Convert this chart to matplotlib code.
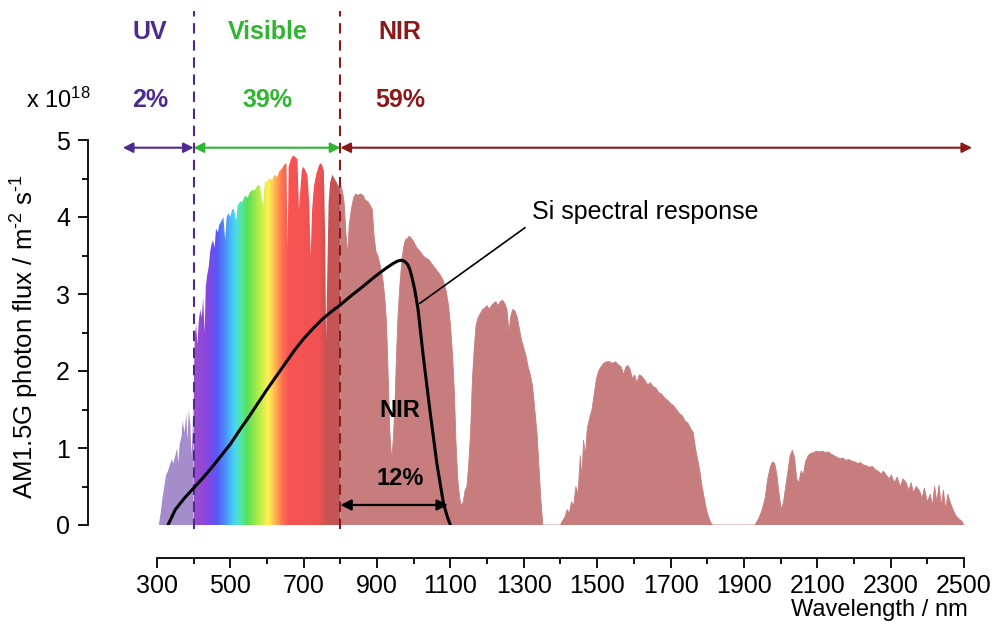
import numpy as np
import matplotlib
matplotlib.use("Agg")
import matplotlib.pyplot as plt
from matplotlib.colors import to_rgb

plt.rcParams['font.family'] = ['Liberation Sans', 'DejaVu Sans']
plt.rcParams['mathtext.default'] = 'regular'

# ---------------- data ----------------
wavelength_nm = [
    305, 310, 315, 320, 325, 330, 335, 340, 345, 350, 355, 358, 362, 367, 370, 375, 380, 383, 387, 391, 394, 397,
    400, 403, 407, 410, 414, 418, 422, 426, 430, 433, 437, 441, 445, 449, 453, 457, 461, 466, 470, 476, 481, 486,
    490, 495, 500, 505, 510, 516, 520, 527, 533, 540, 547, 553, 560, 567, 573, 580, 589, 594, 600, 607, 614, 620,
    628, 634, 640, 647, 653, 656, 659, 665, 671, 677, 683, 687, 690, 695, 700, 705, 710, 715, 719, 723, 728, 734,
    740, 745, 750, 755, 759, 761, 764, 768, 772, 778, 784, 790, 795,
    800, 805, 810, 815, 820, 824, 830, 836, 842, 848, 855, 862, 868, 875, 881, 887, 892, 897, 902, 907, 912, 917,
    922, 926, 930, 935, 940, 944, 949, 953, 957, 962, 967, 972, 977, 982, 988, 994, 1000, 1006, 1012, 1018, 1025,
    1032, 1040, 1048, 1056, 1064, 1072, 1080, 1088, 1095, 1100, 1106, 1111, 1115, 1120, 1125, 1130, 1135, 1140,
    1145, 1150, 1155, 1160, 1165, 1170, 1176, 1182, 1188, 1194, 1200, 1206, 1212, 1218, 1224, 1230, 1236, 1242,
    1248, 1254, 1260, 1264, 1270, 1276, 1282, 1288, 1294, 1300, 1306, 1312, 1318, 1324, 1330, 1336, 1342, 1347,
    1352, 1400, 1405, 1412, 1418, 1424, 1430, 1436, 1442, 1448, 1454, 1458, 1463, 1468, 1473, 1480, 1486, 1492,
    1498, 1504, 1510, 1518, 1526, 1534, 1542, 1550, 1558, 1566, 1572, 1578, 1584, 1590, 1596, 1602, 1608, 1615,
    1622, 1630, 1638, 1645, 1652, 1660, 1668, 1676, 1684, 1692, 1700, 1708, 1716, 1724, 1732, 1740, 1748, 1755,
    1762, 1768, 1774, 1780, 1786, 1792, 1798, 1804, 1810, 1815, 1930, 1940, 1950, 1958, 1965, 1972, 1978, 1984,
    1990, 1996, 2002, 2008, 2014, 2020, 2026, 2032, 2038, 2044, 2050, 2056, 2062, 2068, 2075, 2082, 2090, 2098,
    2106, 2114, 2122, 2130, 2138, 2146, 2154, 2162, 2170, 2178, 2186, 2194, 2202, 2210, 2218, 2226, 2234, 2242,
    2250, 2258, 2266, 2274, 2280, 2288, 2296, 2302, 2310, 2318, 2326, 2334, 2342, 2350, 2356, 2362, 2370, 2378,
    2386, 2392, 2400, 2408, 2414, 2420, 2426, 2432, 2438, 2444, 2450, 2456, 2462, 2470, 2478, 2486, 2494, 2500,
]
photon_flux = [
    0.0, 0.15, 0.35, 0.5, 0.65, 0.7, 0.78, 0.85, 0.8, 0.9, 1.0, 0.8, 1.05, 1.15, 1.35, 1.2, 1.45, 1.1, 1.5, 1.3, 0.9, 1.2,
    1.8, 2.45, 2.6, 2.35, 2.65, 2.8, 2.7, 2.95, 2.5, 3.1, 3.25, 3.35, 3.55, 3.65, 3.7, 3.6, 3.85, 3.8, 3.9, 3.95, 4.0, 3.7,
    4.0, 4.05, 4.0, 4.1, 4.1, 3.95, 4.15, 4.2, 4.2, 4.28, 4.25, 4.32, 4.35, 4.35, 4.4, 4.42, 4.15, 4.45, 4.47, 4.5, 4.48, 4.55,
    4.52, 4.6, 4.62, 4.68, 4.7, 3.6, 4.65, 4.75, 4.8, 4.78, 4.75, 4.1, 4.3, 4.62, 4.65, 4.6, 4.55, 4.2, 3.5, 4.1, 4.4, 4.55,
    4.65, 4.7, 4.68, 4.6, 3.6, 2.4, 3.2, 4.2, 4.45, 4.55, 4.5, 4.45, 4.4,
    4.42, 4.35, 4.2, 3.8, 3.5, 3.9, 4.1, 4.25, 4.3, 4.28, 4.3, 4.28, 4.22, 4.2, 4.15, 4.1, 3.75, 3.55, 3.5, 3.4, 3.3, 3.15,
    2.9, 2.6, 2.0, 1.2, 0.85, 1.1, 1.6, 2.2, 2.7, 3.1, 3.4, 3.6, 3.7, 3.72, 3.75, 3.72, 3.68, 3.62, 3.58, 3.55, 3.5,
    3.47, 3.45, 3.4, 3.35, 3.3, 3.25, 3.18, 3.05, 2.85, 2.6, 2.2, 1.7, 1.1, 0.6, 0.35, 0.25, 0.3, 0.45,
    0.5, 0.8, 1.2, 1.9, 2.3, 2.6, 2.7, 2.75, 2.8, 2.82, 2.85, 2.8, 2.85, 2.88, 2.9, 2.85, 2.9, 2.92,
    2.88, 2.8, 2.5, 2.7, 2.8, 2.78, 2.7, 2.55, 2.4, 2.3, 2.2, 2.05, 1.95, 1.8, 1.5, 1.2, 0.7, 0.3,
    0.0, 0.0, 0.05, 0.1, 0.2, 0.15, 0.3, 0.25, 0.5, 0.4, 0.9, 0.6, 1.1, 0.9, 1.25, 1.4, 1.5, 1.7,
    1.9, 2.0, 2.05, 2.1, 2.12, 2.12, 2.1, 2.12, 2.08, 2.05, 1.95, 2.05, 2.07, 2.02, 1.9, 1.95, 1.85, 1.95,
    1.93, 1.88, 1.82, 1.85, 1.8, 1.78, 1.72, 1.7, 1.65, 1.62, 1.58, 1.55, 1.5, 1.45, 1.42, 1.35, 1.32, 1.25,
    1.2, 1.0, 0.85, 0.7, 0.5, 0.35, 0.2, 0.1, 0.03, 0.0, 0.0, 0.08, 0.2, 0.35, 0.6, 0.75, 0.82, 0.8,
    0.65, 0.4, 0.2, 0.3, 0.5, 0.7, 0.9, 0.97, 0.88, 0.6, 0.55, 0.7, 0.65, 0.82, 0.9, 0.93, 0.94, 0.96,
    0.95, 0.96, 0.94, 0.95, 0.92, 0.9, 0.88, 0.86, 0.87, 0.84, 0.85, 0.83, 0.82, 0.8, 0.81, 0.78, 0.77, 0.75,
    0.76, 0.72, 0.7, 0.66, 0.7, 0.65, 0.6, 0.65, 0.55, 0.62, 0.5, 0.6, 0.55, 0.45, 0.55, 0.42, 0.5, 0.45,
    0.35, 0.48, 0.3, 0.4, 0.25, 0.5, 0.3, 0.52, 0.25, 0.45, 0.2, 0.4, 0.3, 0.2, 0.12, 0.08, 0.05, 0.0,
]

si_wl = [330, 350, 375, 400, 425, 450, 475, 500, 525, 550, 575, 600, 625, 650, 675, 700, 725, 750, 775, 800,
         830, 862, 895, 926, 945, 957, 968, 976, 984, 990, 996, 1003, 1012, 1025, 1044, 1063, 1081, 1092, 1100]
si_resp = [0.0, 0.2, 0.35, 0.48, 0.61, 0.75, 0.9, 1.05, 1.23, 1.4, 1.58, 1.76, 1.93, 2.1, 2.27, 2.42, 2.55,
           2.67, 2.77, 2.86, 2.98, 3.1, 3.23, 3.34, 3.4, 3.43, 3.44, 3.42, 3.38, 3.31, 3.2, 3.05, 2.79, 2.23,
           1.49, 0.8, 0.28, 0.1, 0.0]

region_names = ["UV", "Visible", "NIR"]
region_pct = ["2%", "39%", "59%"]
region_bounds = [400, 800]
si_nir_label = "NIR"
si_nir_pct = "12%"

x_ticks = list(range(300, 2501, 200))
y_ticks = [0, 1, 2, 3, 4, 5]

# ---------------- styles ----------------
uv_col = "#4e2a90"
vis_col = "#2fb52f"
nir_col = "#8a1a1a"
uv_fill = "#a58ccb"
nir_fill = "#c77d7d"

wl = np.array(wavelength_nm, dtype=float)
fl = np.array(photon_flux, dtype=float)

fig = plt.figure(figsize=(9.95, 6.31), dpi=100)
ax = fig.add_axes([88 / 995, 106 / 631, (975 - 88) / 995, 385 / 631])

uv = wl <= 400
vis = (wl >= 400) & (wl <= 800)
nir = wl >= 800

ax.fill_between(wl[uv], 0, fl[uv], facecolor=uv_fill, edgecolor='none', zorder=2)
ax.fill_between(wl[nir], 0, fl[nir], facecolor=nir_fill, edgecolor='none', zorder=2)
ax.plot(wl[nir], fl[nir], color=nir_fill, lw=0.6, zorder=2)
vpoly = ax.fill_between(wl[vis], 0, fl[vis], facecolor='none', edgecolor='none', zorder=2)

# rainbow gradient clipped to the visible part of the spectrum
stops = [(400, "#9a4fc8"), (435, "#8a45e0"), (462, "#5858f5"), (485, "#4a90f8"), (510, "#48d6f5"),
         (528, "#52e8a5"), (545, "#58e058"), (575, "#b0ec48"), (602, "#fff252"), (622, "#ffb252"),
         (640, "#ff7252"), (658, "#f85454"), (742, "#f05252"), (760, "#c85252"), (800, "#c05858")]
gx = np.linspace(400, 800, 400)
sw = np.array([s[0] for s in stops], float)
sc = np.array([to_rgb(s[1]) for s in stops])
grad = np.stack([np.interp(gx, sw, sc[:, k]) for k in range(3)], axis=-1)
im = ax.imshow(grad[np.newaxis, :, :], extent=(400, 800, 0, 5), aspect='auto', origin='lower', zorder=2,
               interpolation='bilinear')
im.set_clip_path(vpoly.get_paths()[0], transform=ax.transData)

# Si spectral response
ax.plot(si_wl, si_resp, color='black', lw=2.2, zorder=4, solid_capstyle='round', solid_joinstyle='round')
ax.plot([1017, 1303], [2.88, 3.86], color='black', lw=1.2, zorder=4)
ax.text(1322, 4.06, "Si spectral response", fontsize=18, ha='left', va='center', zorder=5)

# NIR part under Si response
ax.text(963, 1.49, si_nir_label, fontsize=17, fontweight='bold', ha='center', va='center', zorder=5)
ax.text(963, 0.61, si_nir_pct, fontsize=17, fontweight='bold', ha='center', va='center', zorder=5)
ax.annotate('', xy=(1093, 0.26), xytext=(800, 0.26),
            arrowprops=dict(arrowstyle='<|-|>', color='black', lw=1.6, mutation_scale=16,
                            shrinkA=0, shrinkB=0), zorder=5)

# region boundaries
ax.plot([region_bounds[0]] * 2, [-0.05, 6.68], color=uv_col, lw=1.5, ls=(0, (5, 3.2)), clip_on=False, zorder=3)
ax.plot([region_bounds[1]] * 2, [-0.05, 6.68], color=nir_col, lw=1.5, ls=(0, (5, 3.2)), clip_on=False, zorder=3)

# region arrows
arrow_y = 4.9
for (x0, x1, c) in [(207, region_bounds[0], uv_col), (region_bounds[0], region_bounds[1], vis_col),
                    (region_bounds[1], 2522, nir_col)]:
    ax.annotate('', xy=(x1, arrow_y), xytext=(x0, arrow_y), annotation_clip=False,
                arrowprops=dict(arrowstyle='<|-|>', color=c, lw=1.5, mutation_scale=15,
                                shrinkA=0, shrinkB=0), zorder=5)

# region labels
label_x = [281, 602, 962]
for name, pct, xx, c in zip(region_names, region_pct, label_x, [uv_col, vis_col, nir_col]):
    ax.text(xx, 6.40, name, color=c, fontsize=18, fontweight='bold', ha='center', va='center', clip_on=False)
    ax.text(xx, 5.52, pct, color=c, fontsize=18, fontweight='bold', ha='center', va='center', clip_on=False)

fig.text(58 / 995, 1 - 100 / 631, "x 10$^{18}$", fontsize=17, ha='center', va='center')

# axes styling
ax.set_xlim(112, 2530)
ax.set_ylim(0, 5)
for s in ['top', 'right']:
    ax.spines[s].set_visible(False)
ax.spines['bottom'].set_position(('outward', 24))
ax.spines['bottom'].set_bounds(300, 2500)
ax.spines['left'].set_bounds(0, 5)
for s in ['bottom', 'left']:
    ax.spines[s].set_linewidth(1.3)

ax.set_xticks(x_ticks)
ax.set_xticks(list(range(300, 2501, 100)), minor=True)
ax.set_yticks(y_ticks)
ax.set_yticks([0.5, 1.5, 2.5, 3.5, 4.5], minor=True)
ax.tick_params(axis='both', which='major', direction='out', length=7, width=1.3, labelsize=18, pad=4)
ax.tick_params(axis='both', which='minor', direction='out', length=4, width=1.3)
ax.tick_params(axis='y', which='major', pad=6)

ax.set_ylabel("AM1.5G photon flux / m$^{\u2010 2}$ s$^{\u2010 1}$", fontsize=18.5)
ax.yaxis.set_label_coords(-0.053, 0.49)
fig.text(968 / 995, 1 - 610 / 631, "Wavelength / nm", fontsize=17, ha='right', va='center')

fig.savefig("out.png", dpi=100)
